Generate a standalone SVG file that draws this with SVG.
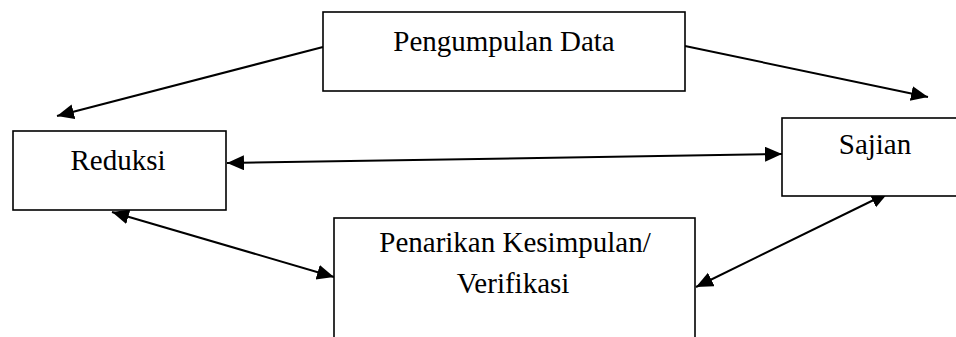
<svg xmlns="http://www.w3.org/2000/svg" width="956" height="337" viewBox="0 0 956 337">
<style>
.box{fill:#fff;stroke:#000;stroke-width:1.6}
.lbl{font-family:"Liberation Serif","Times New Roman",serif;font-size:29px;fill:#000;text-anchor:middle}
.con{stroke:#000;stroke-width:2;fill:none}
</style>
<defs>
<marker id="ah" markerUnits="userSpaceOnUse" markerWidth="20" markerHeight="18" refX="17" refY="7.5" orient="auto-start-reverse">
<path d="M0,0 L17,7.5 L0,15 z" fill="#000"/>
</marker>
</defs>
<rect width="956" height="337" fill="#fff"/>
<g id="connectors">
<line class="con" x1="323" y1="47" x2="57" y2="116" marker-end="url(#ah)"/>
<line class="con" x1="685" y1="46" x2="928" y2="97" marker-end="url(#ah)"/>
<line class="con" x1="227" y1="163" x2="782" y2="154" marker-start="url(#ah)" marker-end="url(#ah)"/>
<line class="con" x1="112" y1="212" x2="334" y2="277" marker-start="url(#ah)" marker-end="url(#ah)"/>
<line class="con" x1="888" y1="193" x2="696" y2="287" marker-start="url(#ah)" marker-end="url(#ah)"/>
</g>
<g id="pengumpulan">
<rect class="box" x="323" y="12" width="362" height="79"/>
<text class="lbl" x="504" y="51">Pengumpulan Data</text>
</g>
<g id="reduksi">
<rect class="box" x="13" y="131" width="213" height="79"/>
<text class="lbl" x="118" y="170">Reduksi</text>
</g>
<g id="sajian">
<rect class="box" x="782" y="118" width="190" height="78"/>
<text class="lbl" x="875" y="154">Sajian</text>
</g>
<g id="penarikan">
<rect class="box" x="334" y="218" width="361" height="130"/>
<text class="lbl" x="515" y="252">Penarikan Kesimpulan/</text>
<text class="lbl" x="513" y="293">Verifikasi</text>
</g>
</svg>
